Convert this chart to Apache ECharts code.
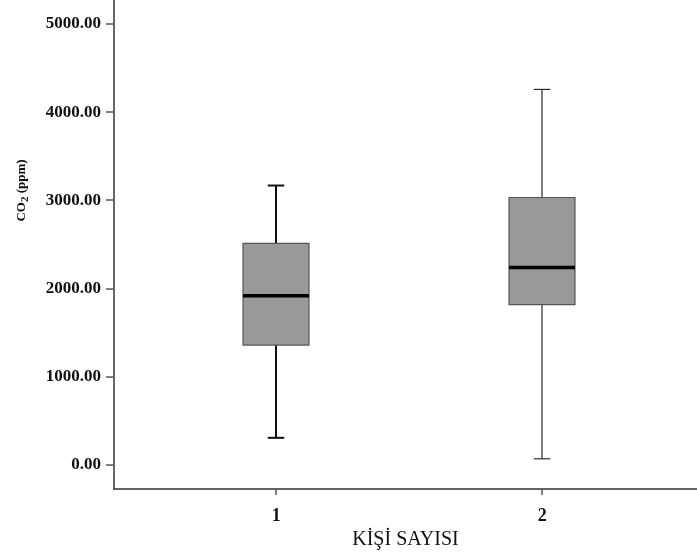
<!DOCTYPE html>
<html>
<head>
<meta charset="utf-8">
<title>CO2 (ppm) by KİŞİ SAYISI</title>
<script src="https://cdn.jsdelivr.net/npm/echarts@6/dist/echarts.min.js"></script>
<style>
  html, body { margin: 0; padding: 0; background: #ffffff; }
  #chart { width: 697px; height: 556px; }
</style>
</head>
<body>
<div id="chart"></div>
<script>
// Group positions on the x axis (number of people)
const categories = [1, 2];
// Box-and-whisker statistics for CO2 (ppm)
const lowWhisker = [303, 65];
const q1 = [1356, 1815];
const median = [1917, 2235];
const q3 = [2511, 3031];
const highWhisker = [3167, 4258];
// Tick values
const yTicks = [0, 1000, 2000, 3000, 4000, 5000];
const xTicks = [1, 2];

const FONT = '"Liberation Serif", "Times New Roman", serif';
const BOX_WIDTH = 0.248;   // in x-axis units
const CAP_WIDTH = 0.062;   // in x-axis units
const whiskerWidths = [2, 1.2];
const whiskerColors = ['#111111', '#2a2a2a'];

const boxData = categories.map((c, i) => [c, lowWhisker[i], q1[i], median[i], q3[i], highWhisker[i]]);

function renderBox(params, api) {
  const x = api.value(0);
  const lo = api.coord([x, api.value(1)]);
  const b1 = api.coord([x, api.value(2)]);
  const md = api.coord([x, api.value(3)]);
  const b3 = api.coord([x, api.value(4)]);
  const hi = api.coord([x, api.value(5)]);
  const halfBox = api.size([BOX_WIDTH, 0])[0] / 2;
  const halfCap = api.size([CAP_WIDTH, 0])[0] / 2;
  const cx = Math.round(lo[0]);
  const wStyle = { stroke: whiskerColors[params.dataIndex], lineWidth: whiskerWidths[params.dataIndex] };
  return {
    type: 'group',
    children: [
      { type: 'line', shape: { x1: cx, y1: lo[1], x2: cx, y2: b1[1] }, style: wStyle },
      { type: 'line', shape: { x1: cx, y1: b3[1], x2: cx, y2: hi[1] }, style: wStyle },
      { type: 'line', shape: { x1: cx - halfCap, y1: lo[1], x2: cx + halfCap, y2: lo[1] }, style: wStyle },
      { type: 'line', shape: { x1: cx - halfCap, y1: hi[1], x2: cx + halfCap, y2: hi[1] }, style: wStyle },
      {
        type: 'rect',
        shape: { x: cx - halfBox, y: b3[1], width: halfBox * 2, height: b1[1] - b3[1] },
        style: { fill: '#999999', stroke: '#555555', lineWidth: 1.2 }
      },
      {
        type: 'line',
        shape: { x1: cx - halfBox, y1: md[1], x2: cx + halfBox, y2: md[1] },
        style: { stroke: '#000000', lineWidth: 3.5 }
      }
    ]
  };
}

const chart = echarts.init(document.getElementById('chart'), null, { renderer: 'canvas' });
chart.setOption({
  backgroundColor: '#ffffff',
  animation: false,
  grid: { left: 114, top: 0, right: 0, bottom: 67 },
  xAxis: {
    type: 'value',
    min: 0.39,
    max: 2.582,
    splitLine: { show: false },
    axisLine: { show: true, onZero: false, lineStyle: { color: '#333333', width: 1.5 } },
    axisTick: { show: true, customValues: xTicks, length: 6, lineStyle: { color: '#555555', width: 1.5 } },
    axisLabel: {
      customValues: xTicks,
      formatter: v => String(v),
      margin: 18,
      color: '#111111',
      fontFamily: FONT,
      fontSize: 18,
      fontWeight: 'bold'
    },
    name: 'KİŞİ SAYISI',
    nameLocation: 'middle',
    nameGap: 34,
    nameTextStyle: { color: '#111111', fontFamily: FONT, fontSize: 20 }
  },
  yAxis: {
    type: 'value',
    min: -278,
    max: 5273,
    splitLine: { show: false },
    axisLine: { show: true, onZero: false, lineStyle: { color: '#333333', width: 1.5 } },
    axisTick: { show: true, customValues: yTicks, length: 8, lineStyle: { color: '#555555', width: 1.5 } },
    axisLabel: {
      customValues: yTicks,
      formatter: v => v.toFixed(2),
      margin: 13,
      color: '#111111',
      fontFamily: FONT,
      fontSize: 17,
      fontWeight: 'bold'
    },
    name: 'CO{sub|2} (ppm)',
    nameLocation: 'middle',
    nameGap: 83,
    nameTextStyle: {
      color: '#111111',
      fontFamily: FONT,
      fontSize: 13,
      fontWeight: 'bold',
      lineHeight: 18,
      padding: [0, 0, 0, 108],
      rich: {
        sub: { fontFamily: FONT, fontSize: 11, fontWeight: 'bold', verticalAlign: 'bottom', lineHeight: 18 }
      }
    }
  },
  series: [{
    type: 'custom',
    renderItem: renderBox,
    encode: { x: 0, y: [1, 2, 3, 4, 5] },
    data: boxData,
    clip: false
  }]
});
</script>
</body>
</html>
